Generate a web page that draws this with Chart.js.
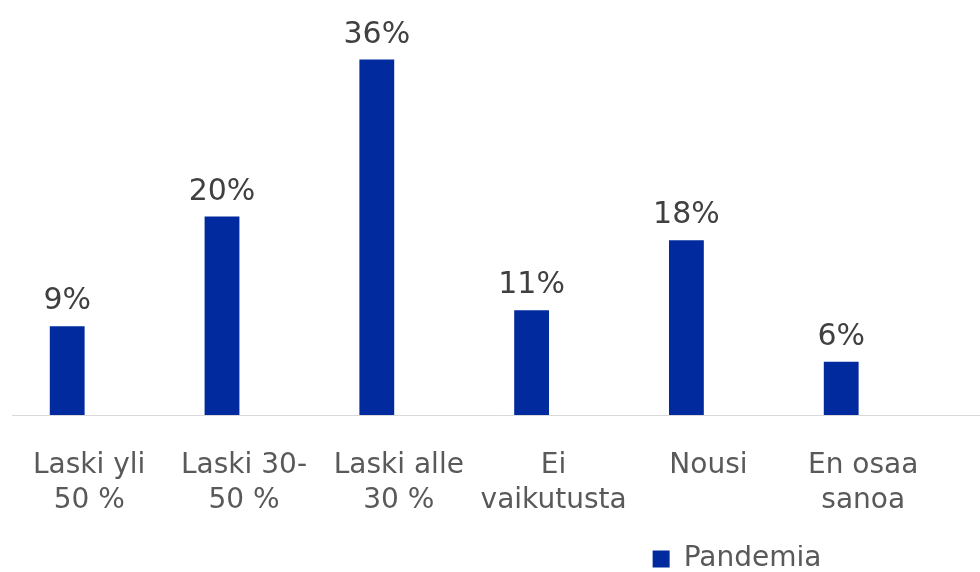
<!DOCTYPE html>
<html>
<head>
<meta charset="utf-8">
<script src="https://cdn.jsdelivr.net/npm/chart.js@4/dist/chart.umd.min.js"></script>
<style>
  html, body { margin: 0; padding: 0; background: #ffffff; }
  #wrap { width: 980px; height: 572px; }
</style>
</head>
<body>
<div id="wrap"><canvas id="c" width="980" height="572"></canvas></div>
<script>
// ---- data ----
const categories = [
  ["Laski yli", "50 %"],
  ["Laski 30-", "50 %"],
  ["Laski alle", "30 %"],
  ["Ei", "vaikutusta"],
  ["Nousi"],
  ["En osaa", "sanoa"]
];
const seriesName = "Pandemia";
const pandemia = [9.0, 20.1, 36.0, 10.6, 17.7, 5.4];
const valueLabels = ["9%", "20%", "36%", "11%", "18%", "6%"];

// ---- styles ----
const FONT = "'DejaVu Sans', Verdana, sans-serif";
const BAR_COLOR = "#002a9e";

const valueLabelPlugin = {
  id: "valueLabels",
  afterDatasetsDraw(chart) {
    const ctx = chart.ctx;
    const meta = chart.getDatasetMeta(0);
    ctx.save();
    ctx.font = "30px " + FONT;
    ctx.fillStyle = "#404040";
    ctx.textAlign = "center";
    ctx.textBaseline = "alphabetic";
    meta.data.forEach((el, i) => {
      ctx.fillText(valueLabels[i], el.x, el.y - 17);
    });
    ctx.restore();
  }
};

const legendShift = {
  id: "legendShift",
  afterLayout(chart) {
    const lg = chart.legend;
    if (!lg) return;
    lg.left += 241; lg.right += 241;
    lg.top += 11; lg.bottom += 11;
  }
};

new Chart(document.getElementById("c"), {
  type: "bar",
  data: {
    datasets: [{
      label: seriesName,
      data: pandemia.map((v, i) => ({ x: i, y: v })),
      backgroundColor: BAR_COLOR,
      borderWidth: 0,
      barPercentage: 0.9,
      categoryPercentage: 0.25
    }]
  },
  options: {
    responsive: false,
    animation: false,
    layout: { padding: { left: 12, right: 0, top: 20, bottom: 0 } },
    plugins: {
      legend: {
        position: "bottom",
        labels: {
          boxWidth: 17, boxHeight: 17, padding: 0,
          color: "#595959",
          font: { family: FONT, size: 28 }
        }
      },
      tooltip: { enabled: false }
    },
    scales: {
      x: {
        type: "linear",
        offset: false,
        min: -0.3566,
        max: 5.8966,
        grid: { display: false },
        border: { display: true, color: "#d9d9d9", width: 1 },
        ticks: {
          stepSize: 1,
          includeBounds: false,
          autoSkip: false,
          maxRotation: 0, minRotation: 0,
          padding: 25,
          labelOffset: 22,
          color: "#595959",
          font: { family: FONT, size: 28, lineHeight: 1.25 },
          callback: (v) => (Number.isInteger(v) && categories[v]) ? categories[v] : ""
        },
        afterFit(scale) {
          scale.height = 119;
          scale.paddingLeft = 0;
          scale.paddingRight = 0;
        }
      },
      y: {
        display: false,
        min: 0,
        max: 40
      }
    }
  },
  plugins: [valueLabelPlugin, legendShift]
});
</script>
</body>
</html>
